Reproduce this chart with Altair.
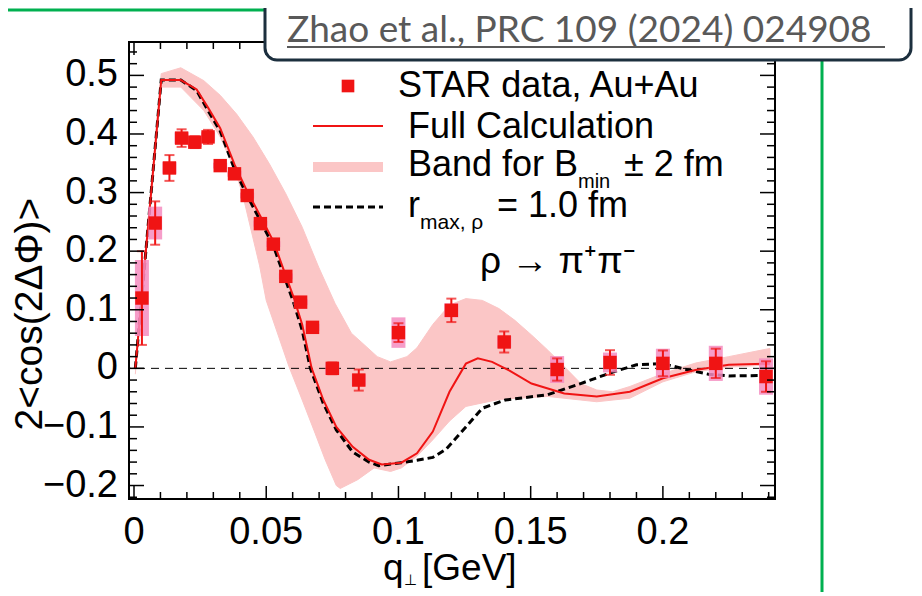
import altair as alt
import pandas as pd

# ---------------- data ----------------
q_data = [0.003, 0.008, 0.0134, 0.018, 0.023, 0.028, 0.0326, 0.038, 0.0428, 0.0478, 0.0527, 0.0574,
          0.063, 0.0675, 0.075, 0.085, 0.100, 0.120, 0.140, 0.160, 0.180, 0.200, 0.220, 0.239]
v_data = [0.12, 0.248, 0.342, 0.393, 0.386, 0.395, 0.346, 0.332, 0.295, 0.247, 0.212, 0.157,
          0.113, 0.070, 0.000, -0.020, 0.061, 0.099, 0.045, -0.002, 0.010, 0.0085, 0.0085, -0.014]
stat_err = [0.080, 0.037, 0.022, 0.015, 0.010, 0.012, 0.008, 0.008, 0.008, 0.008, 0.008, 0.008,
            0.008, 0.008, 0.010, 0.018, 0.016, 0.020, 0.018, 0.019, 0.021, 0.022, 0.025, 0.026]
sys_err = [0.065, 0.028, 0.010, 0.010, 0.008, 0.008, 0.005, 0.005, 0.005, 0.005, 0.005, 0.005,
           0.005, 0.006, 0.010, 0.010, 0.026, 0.012, 0.010, 0.023, 0.017, 0.025, 0.030, 0.031]

full_q = [0.0005, 0.0103, 0.0177, 0.0237, 0.028, 0.0326, 0.038, 0.0428, 0.048, 0.0528, 0.0566, 0.0603,
          0.0636, 0.0672, 0.0716, 0.0765, 0.0827, 0.0889, 0.0937, 0.1011, 0.107, 0.113, 0.1193, 0.1255,
          0.130, 0.1354, 0.142, 0.1503, 0.1627, 0.175, 0.1875, 0.200, 0.2123, 0.2249, 0.2405]
full_v = [0.0, 0.492, 0.492, 0.476, 0.445, 0.410, 0.348, 0.302, 0.258, 0.216, 0.168, 0.122,
          0.075, 0.0, -0.054, -0.100, -0.134, -0.156, -0.164, -0.161, -0.145, -0.108, -0.040, 0.008,
          0.017, 0.011, -0.004, -0.026, -0.043, -0.048, -0.040, -0.017, -0.003, 0.006, 0.008]

rmax_q = [0.0005, 0.0103, 0.0177, 0.0237, 0.028, 0.0326, 0.038, 0.0428, 0.048, 0.0528, 0.0566, 0.0603,
          0.0636, 0.0667, 0.0716, 0.0765, 0.0827, 0.0889, 0.0925, 0.1011, 0.107, 0.113, 0.118, 0.1255,
          0.1317, 0.1404, 0.1565, 0.1689, 0.1813, 0.190, 0.200, 0.2098, 0.2172, 0.2249, 0.2405]
rmax_v = [0.0, 0.492, 0.492, 0.474, 0.440, 0.405, 0.340, 0.295, 0.250, 0.208, 0.160, 0.113,
          0.065, 0.0, -0.060, -0.105, -0.143, -0.160, -0.166, -0.161, -0.157, -0.152, -0.138, -0.100,
          -0.068, -0.054, -0.045, -0.026, -0.006, 0.006, 0.008, -0.003, -0.010, -0.013, -0.012]

band_up_q = [0.0005, 0.0103, 0.0177, 0.0264, 0.0326, 0.0388, 0.045, 0.0512, 0.0574, 0.0636, 0.0698,
             0.076, 0.0822, 0.0859, 0.092, 0.097, 0.1032, 0.107, 0.113, 0.1193, 0.1255, 0.1317, 0.138,
             0.144, 0.1503, 0.1565, 0.1627, 0.169, 0.175, 0.181, 0.1875, 0.200, 0.2123, 0.2249, 0.2405]
band_up_v = [0.010, 0.503, 0.513, 0.491, 0.466, 0.434, 0.395, 0.349, 0.298, 0.241, 0.173,
             0.111, 0.060, 0.045, 0.020, 0.011, 0.020, 0.035, 0.075, 0.108, 0.119, 0.116, 0.102,
             0.082, 0.057, 0.031, 0.003, -0.026, -0.037, -0.040, -0.031, -0.009, 0.009, 0.020, 0.034]
band_lo_q = [0.0005, 0.0103, 0.0177, 0.0264, 0.0326, 0.038, 0.041, 0.0475, 0.050, 0.0586, 0.0636,
             0.0685, 0.0723, 0.0765, 0.078, 0.0846, 0.0908, 0.097, 0.1011, 0.107, 0.113, 0.1193,
             0.1255, 0.138, 0.1565, 0.175, 0.1875, 0.200, 0.2123, 0.2249, 0.2405]
band_lo_v = [-0.010, 0.480, 0.480, 0.440, 0.395, 0.340, 0.298, 0.175, 0.116, 0.003, -0.054,
             -0.111, -0.156, -0.200, -0.205, -0.190, -0.170, -0.176, -0.170, -0.150, -0.122, -0.090,
             -0.065, -0.053, -0.048, -0.057, -0.051, -0.023, -0.006, 0.002, 0.006]

x_major = [0, 0.05, 0.1, 0.15, 0.2]
x_labels = ["0", "0.05", "0.1", "0.15", "0.2"]
x_minor = [0.01, 0.02, 0.03, 0.04, 0.06, 0.07, 0.08, 0.09, 0.11, 0.12, 0.13, 0.14,
           0.16, 0.17, 0.18, 0.19, 0.21, 0.22, 0.23, 0.24]
y_major = [-0.2, -0.1, 0, 0.1, 0.2, 0.3, 0.4, 0.5]
y_labels = ["\u22120.2", "\u22120.1", "0", "0.1", "0.2", "0.3", "0.4", "0.5"]
y_minor = [-0.22, -0.18, -0.16, -0.14, -0.12, -0.08, -0.06, -0.04, -0.02, 0.02, 0.04, 0.06, 0.08,
           0.12, 0.14, 0.16, 0.18, 0.22, 0.24, 0.26, 0.28, 0.32, 0.34, 0.36, 0.38,
           0.42, 0.44, 0.46, 0.48, 0.52, 0.54]

# ---------------- styling ----------------
W, H = 646, 457
FONT = "Liberation Sans"
RED = "#f01414"
BAND = "#fbc6c6"
SYS = "#f48cc0"
GREEN = "#00b050"

xs = alt.Scale(domain=[0, 0.2405], nice=False, zero=False)
ys = alt.Scale(domain=[-0.223, 0.557], nice=False, zero=False)

pts = pd.DataFrame({
    "q": q_data, "v": v_data,
    "lo": [v - e for v, e in zip(v_data, stat_err)],
    "hi": [v + e for v, e in zip(v_data, stat_err)],
    "slo": [v - e for v, e in zip(v_data, sys_err)],
    "shi": [v + e for v, e in zip(v_data, sys_err)],
})
full_df = pd.DataFrame({"q": full_q, "v": full_v})
rmax_df = pd.DataFrame({"q": rmax_q, "v": rmax_v})
band_df = pd.DataFrame({
    "q": band_up_q + band_lo_q[::-1],
    "v": band_up_v + band_lo_v[::-1],
    "o": list(range(len(band_up_q) + len(band_lo_q))),
})

X = lambda f: alt.X(f, scale=xs, axis=None)
Y = lambda f: alt.Y(f, scale=ys, axis=None)

band = alt.Chart(band_df).mark_line(fill=BAND, stroke=BAND, strokeWidth=1).encode(
    x=X("q:Q"), y=Y("v:Q"), order="o:Q")

zero = alt.Chart(pd.DataFrame({"z": [0]})).mark_rule(
    color="black", strokeWidth=1, strokeDash=[8, 6]).encode(y=Y("z:Q"))

rmax_line = alt.Chart(rmax_df).mark_line(color="black", strokeWidth=3, strokeDash=[7, 4]).encode(
    x=X("q:Q"), y=Y("v:Q"))
full_line = alt.Chart(full_df).mark_line(color=RED, strokeWidth=2).encode(x=X("q:Q"), y=Y("v:Q"))

base = alt.Chart(pts)
sys_box = base.mark_bar(size=14, color=SYS, opacity=0.85).encode(x=X("q:Q"), y=Y("slo:Q"), y2="shi:Q")
err = base.mark_rule(color=RED, strokeWidth=2).encode(x=X("q:Q"), y=Y("lo:Q"), y2="hi:Q")
cap_lo = base.mark_tick(orient="horizontal", size=10, thickness=2, color=RED).encode(x=X("q:Q"), y=Y("lo:Q"))
cap_hi = base.mark_tick(orient="horizontal", size=10, thickness=2, color=RED).encode(x=X("q:Q"), y=Y("hi:Q"))
marks = base.mark_square(size=180, color=RED, opacity=1).encode(x=X("q:Q"), y=Y("v:Q"))


def xticks(vals, ln):
    d = alt.Chart(pd.DataFrame({"t": vals}))
    return (d.mark_rule(color="black", strokeWidth=1.5).encode(x=X("t:Q"), y=alt.value(H), y2=alt.value(H - ln)) +
            d.mark_rule(color="black", strokeWidth=1.5).encode(x=X("t:Q"), y=alt.value(0), y2=alt.value(ln)))


def yticks(vals, ln):
    d = alt.Chart(pd.DataFrame({"t": vals}))
    return (d.mark_rule(color="black", strokeWidth=1.5).encode(y=Y("t:Q"), x=alt.value(0), x2=alt.value(ln)) +
            d.mark_rule(color="black", strokeWidth=1.5).encode(y=Y("t:Q"), x=alt.value(W), x2=alt.value(W - ln)))


xlab = alt.Chart(pd.DataFrame({"t": x_major, "s": x_labels})).mark_text(
    font=FONT, fontSize=38, color="black", align="center", baseline="alphabetic").encode(
    x=X("t:Q"), y=alt.value(502), text="s:N")
ylab = alt.Chart(pd.DataFrame({"t": y_major, "s": y_labels})).mark_text(
    font=FONT, fontSize=38, color="black", align="right", baseline="middle").encode(
    y=Y("t:Q"), x=alt.value(-11), text="s:N")

one = pd.DataFrame({"k": [0]})


def txt(t, x, y, size, font=FONT, color="black", align="left", baseline="alphabetic", angle=0):
    kw = dict(text=t, font=font, fontSize=size, color=color, align=align, baseline=baseline)
    if angle:
        kw["angle"] = angle
    return alt.Chart(one).mark_text(**kw).encode(x=alt.value(x), y=alt.value(y))


def seg(x1, x2, y, color, width, dash=None):
    kw = dict(color=color, strokeWidth=width)
    if dash:
        kw["strokeDash"] = dash
    return alt.Chart(one).mark_rule(**kw).encode(x=alt.value(x1), x2=alt.value(x2), y=alt.value(y))


legend = [
    alt.Chart(one).mark_square(size=160, color=RED, opacity=1).encode(x=alt.value(219), y=alt.value(44)),
    txt("STAR data, Au+Au", 269, 55, 36),
    seg(184, 254, 84, RED, 2),
    txt("Full Calculation", 279, 96, 36),
    seg(184, 254, 125, BAND, 10),
    txt("Band for B", 279, 134, 36),
    txt("min", 449, 146, 20),
    txt("± 2 fm", 495, 134, 36),
    seg(184, 254, 165, "black", 3, [7, 4]),
    txt("r", 279, 175, 36),
    txt("max, ρ", 291, 187, 21),
    txt("= 1.0 fm", 368, 175, 36),
    txt("ρ → π⁺π⁻", 351, 231, 37),
]

titles = [
    txt("2<cos(2ΔΦ)>", -99, 272, 39, align="center", baseline="middle", angle=270),
    txt("q", 254, 538, 37),
    txt("⊥", 275, 543, 15),
    txt("[GeV]", 293, 538, 37),
]

decor = [
    seg(-121, 136, -32, GREEN, 3),
    alt.Chart(one).mark_rule(color=GREEN, strokeWidth=3).encode(
        x=alt.value(693), y=alt.value(-34), y2=alt.value(560)),
    alt.Chart(one).mark_rect(fill="white", stroke="#1c2f3e", strokeWidth=3, cornerRadius=12).encode(
        x=alt.value(136), x2=alt.value(782), y=alt.value(-62), y2=alt.value(18)),
    txt("Zhao et al., PRC 109 (2024) 024908", 158, 0, 37, font="Lato", color="#595959"),
    seg(158, 756, 5, "#595959", 2),
]

chart = alt.layer(
    band, zero, rmax_line, full_line, sys_box, err, cap_lo, cap_hi, marks,
    xticks(x_major, 13), xticks(x_minor, 7), yticks(y_major, 15), yticks(y_minor, 8),
    xlab, ylab, *legend, *titles, *decor,
).properties(
    width=W, height=H,
    autosize=alt.AutoSizeParams(type="none"),
    padding={"left": 121, "top": 34, "right": 139, "bottom": 93},
).configure_view(stroke="black", strokeWidth=2)

chart.save("out.html", embed_options={"renderer": "svg", "actions": False})
